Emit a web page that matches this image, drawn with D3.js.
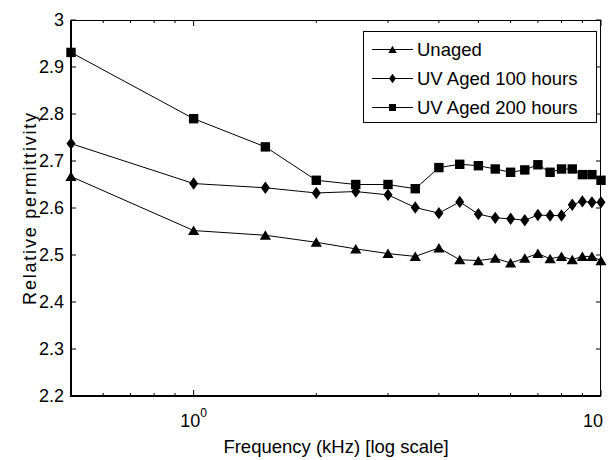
<!DOCTYPE html>
<html><head><meta charset="utf-8">
<script src="https://cdn.jsdelivr.net/npm/d3@7"></script>
<style>
html,body{margin:0;padding:0;background:#fff;}
svg{display:block;font-family:"Liberation Sans",Arial,sans-serif;}
</style></head>
<body>
<svg id="chart" width="608" height="460"></svg>
<script>
const freq = [0.5,1,1.5,2,2.5,3,3.5,4,4.5,5,5.5,6,6.5,7,7.5,8,8.5,9,9.5,10];
const unaged = [2.667,2.552,2.542,2.527,2.513,2.503,2.497,2.515,2.490,2.488,2.493,2.483,2.493,2.503,2.492,2.497,2.490,2.497,2.497,2.488];
const uv100 = [2.737,2.652,2.643,2.632,2.635,2.628,2.601,2.589,2.613,2.587,2.579,2.577,2.574,2.585,2.584,2.584,2.607,2.614,2.612,2.612];
const uv200 = [2.931,2.790,2.730,2.659,2.650,2.650,2.641,2.686,2.693,2.690,2.683,2.676,2.681,2.692,2.676,2.683,2.683,2.671,2.671,2.659];
const seriesNames = ["Unaged","UV Aged 100 hours","UV Aged 200 hours"];
const seriesMarkers = ["triangle","diamond","square"];
const yTicks = [2.2,2.3,2.4,2.5,2.6,2.7,2.8,2.9,3];
const xMajor = [1,10];
const xMajorExp = ["0",""];   // exponent of 10^1 falls outside the picture in the reference
const xMinor = [0.6,0.7,0.8,0.9,2,3,4,5,6,7,8,9];

const series = [unaged, uv100, uv200].map((v,i)=>({name:seriesNames[i], marker:seriesMarkers[i], values:v}));

const svg = d3.select("#chart");
const m = {l:71, t:20, r:7, b:64};
const W = 608 - m.l - m.r, H = 460 - m.t - m.b;
const x = d3.scaleLog().domain([0.5,10]).range([0,W]);
const y = d3.scaleLinear().domain([2.2,3]).range([H,0]);
const g = svg.append("g").attr("transform",`translate(${m.l},${m.t})`);

function markerPath(type, s){
  if(type==="triangle"){ const w=s*0.56,h=s*0.5; return `M0,${-h}L${w},${h*0.9}L${-w},${h*0.9}Z`; }
  if(type==="diamond"){ const w=s*0.45,h=s*0.62; return `M0,${-h}L${w},0L0,${h}L${-w},0Z`; }
  const a=s*0.47; return `M${-a},${-a}H${a}V${a}H${-a}Z`;
}

// lines & markers
const line = d3.line().x((d,i)=>x(freq[i])).y(d=>y(d));
series.forEach(s=>{
  g.append("path").attr("d",line(s.values)).attr("fill","none").attr("stroke","#000").attr("stroke-width",1);
  g.selectAll(null).data(s.values).join("path")
    .attr("transform",(d,i)=>`translate(${x(freq[i])},${y(d)})`)
    .attr("d",markerPath(s.marker,10)).attr("fill","#000");
});

// axes box
const ax = g.append("g").attr("stroke","#000").attr("fill","none");
ax.append("line").attr("x1",0).attr("x2",W).attr("y1",0.5).attr("y2",0.5).attr("stroke-width",1);
ax.append("line").attr("x1",W-0.5).attr("x2",W-0.5).attr("y1",0).attr("y2",H).attr("stroke-width",1);
ax.append("line").attr("x1",0).attr("x2",0).attr("y1",0).attr("y2",H+1).attr("stroke-width",2);
ax.append("line").attr("x1",0).attr("x2",W).attr("y1",H).attr("y2",H).attr("stroke-width",2);

// y ticks
yTicks.forEach(t=>{
  ax.append("line").attr("x1",0).attr("x2",5).attr("y1",y(t)).attr("y2",y(t));
  ax.append("line").attr("x1",W).attr("x2",W-5).attr("y1",y(t)).attr("y2",y(t));
  g.append("text").attr("x",-7).attr("y",y(t)).attr("dy","0.35em").attr("text-anchor","end")
    .attr("font-size",18).attr("fill","#000").text(d3.format(".1f")(t).replace(/\.0$/,""));
});
// x ticks
xMajor.forEach((t,i)=>{
  ax.append("line").attr("x1",x(t)).attr("x2",x(t)).attr("y1",H).attr("y2",H-6);
  ax.append("line").attr("x1",x(t)).attr("x2",x(t)).attr("y1",0).attr("y2",6);
  const tx = g.append("text").attr("x",x(t)).attr("y",H+31).attr("font-size",18).attr("fill","#000");
  if(xMajorExp[i]){
    tx.attr("text-anchor","middle");
    tx.append("tspan").text("10");
    tx.append("tspan").attr("dy",-10).attr("font-size",12).text(xMajorExp[i]);
  } else {
    tx.attr("text-anchor","end").attr("x",x(t)+2).text("10");
  }
});
xMinor.forEach(t=>{
  ax.append("line").attr("x1",x(t)).attr("x2",x(t)).attr("y1",H).attr("y2",H-3);
  ax.append("line").attr("x1",x(t)).attr("x2",x(t)).attr("y1",0).attr("y2",3);
});

// axis titles
g.append("text").attr("x",W/2).attr("y",H+57).attr("text-anchor","middle").attr("font-size",18.5).attr("fill","#000")
  .text("Frequency (kHz) [log scale]");
svg.append("text").attr("transform","translate(36,208) rotate(-90)").attr("text-anchor","middle")
  .attr("font-size",18).attr("letter-spacing",1.8).attr("fill","#000").text("Relative permittivity");

// legend
const lg = svg.append("g").attr("transform","translate(363,31)");
lg.append("rect").attr("x",0.5).attr("y",0.5).attr("width",233).attr("height",91).attr("fill","#fff").attr("stroke","#000").attr("stroke-width",1);
series.forEach((s,i)=>{
  const cy = 18.5 + i*29;
  lg.append("line").attr("x1",9).attr("x2",50).attr("y1",cy).attr("y2",cy).attr("stroke","#000").attr("stroke-width",1);
  lg.append("path").attr("transform",`translate(29.5,${cy})`).attr("d",markerPath(s.marker,7.5)).attr("fill","#000");
  lg.append("text").attr("x",54).attr("y",cy).attr("dy","0.36em").attr("font-size",18.5).attr("fill","#000").text(s.name);
});
</script>
</body></html>
